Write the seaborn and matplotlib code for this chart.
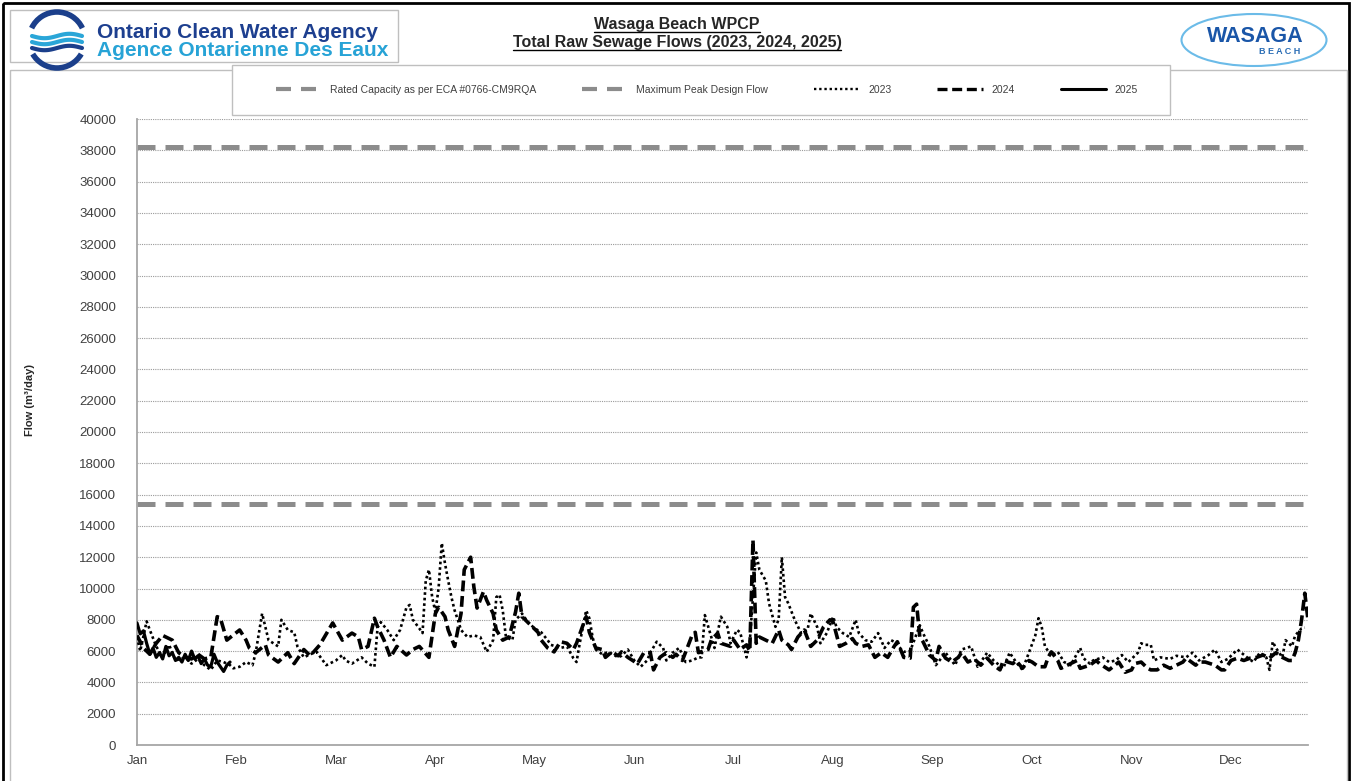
import numpy as np
import pandas as pd
import matplotlib
matplotlib.use("Agg")
import matplotlib.pyplot as plt
import seaborn as sns
from matplotlib.lines import Line2D
from matplotlib.patches import Rectangle, Ellipse, Arc

# ---- data ----
months = ["Jan", "Feb", "Mar", "Apr", "May", "Jun", "Jul", "Aug", "Sep", "Oct", "Nov", "Dec"]

rated_capacity = 15400
peak_design_flow = 38200

day_2025 = [0, 1, 2, 3, 4, 5, 6, 7, 8, 9, 10, 11, 12, 13, 14, 15, 16, 17, 18, 19,
            20, 21, 22, 23, 24, 25, 26, 27, 28, 29]
flow_2025 = [7800, 7100, 7300, 6500, 5800, 6200, 5600, 5900, 5500, 6300, 5700, 5900, 5400, 5600,
             5300, 5800, 5400, 6000, 5500, 5700, 5200, 5500, 5100, 5000, 5800, 5300, 5000, 4700,
             5100, 5300]

day_2024 = [0, 2, 4, 6, 8, 11, 13, 15, 17, 19, 21, 23, 25, 26, 28, 32, 34, 35, 37, 40,
            41, 44, 47, 49, 52, 54, 57, 61, 64, 67, 69, 70, 72, 74, 75, 77, 79, 81, 84, 86,
            88, 91, 93, 94, 96, 97, 99, 101, 102, 104, 105, 106, 108, 109, 111, 112, 114, 116, 118, 119,
            120, 122, 125, 126, 128, 130, 132, 134, 136, 137, 139, 140, 141, 143, 145, 146, 148, 150, 151, 153,
            156, 158, 160, 161, 163, 165, 167, 168, 170, 173, 174, 175, 178, 179, 181, 182, 185, 186, 188, 190,
            191, 192, 193, 194, 196, 198, 200, 201, 203, 204, 206, 208, 210, 212, 214, 216, 217, 219, 221, 223,
            224, 226, 228, 230, 232, 234, 236, 237, 239, 241, 242, 243, 244, 245, 247, 249, 250, 252, 254, 256,
            257, 259, 261, 263, 265, 267, 269, 270, 273, 274, 276, 278, 279, 281, 283, 284, 285, 287, 288, 291,
            293, 294, 297, 299, 300, 303, 306, 308, 310, 311, 313, 315, 316, 318, 320, 322, 324, 326, 327, 330,
            331, 333, 336, 338, 339, 341, 343, 345, 347, 349, 351, 353, 355, 357, 359, 360, 361, 362, 363, 364,
            365]
flow_2024 = [7000, 6200, 5800, 6500, 7000, 6700, 5900, 5600, 5500, 5800, 5500, 5600, 8200, 8100, 6700, 7350, 6700, 6200, 5900, 6400,
             5750, 5300, 5900, 5200, 6100, 5700, 6400, 7800, 6700, 7150, 6900, 6100, 6300, 8100, 7550, 6700, 5600, 6300, 5750, 6100,
             6300, 5600, 8400, 8800, 8200, 7350, 6300, 8400, 11200, 12000, 10100, 8750, 9800, 9250, 8400, 7350, 6700, 6900, 8500, 9700,
             8200, 7800, 7200, 6700, 6200, 5950, 6600, 6500, 6100, 6500, 7650, 8200, 7200, 6200, 6100, 5600, 5950, 5700, 5950, 5600,
             5200, 5900, 5900, 4800, 5600, 5900, 5600, 5800, 5400, 7000, 7200, 5900, 6100, 6700, 7150, 6500, 6300, 6700, 6100, 6400,
             6000, 13100, 6500, 6900, 6700, 6500, 7350, 6700, 6400, 6100, 6900, 7350, 6300, 6700, 7550, 8000, 7850, 6300, 6500, 6800,
             6500, 6300, 6400, 5600, 5900, 5600, 6300, 6600, 5600, 5550, 8800, 9000, 6900, 6600, 5750, 5400, 6300, 5550, 5300, 5600,
             5900, 5300, 5500, 5100, 5550, 5100, 4800, 5400, 5200, 5400, 4900, 5400, 5300, 5000, 5000, 5600, 5950, 5400, 4900, 5200,
             5400, 4900, 5100, 5400, 5200, 4800, 5300, 4650, 4800, 5200, 5300, 4900, 4800, 4800, 5100, 4900, 5100, 5300, 5550, 5100,
             5300, 5300, 5100, 4800, 4800, 5400, 5550, 5400, 5550, 5600, 5750, 5550, 5900, 5600, 5400, 5400, 5900, 6700, 8000, 9700,
             8000]

day_2023 = [0, 1, 3, 4, 6, 8, 10, 12, 15, 17, 19, 21, 23, 25, 27, 29, 30, 32, 34, 36,
            37, 39, 40, 41, 44, 45, 47, 49, 50, 52, 54, 56, 59, 62, 64, 65, 67, 70, 72, 74,
            75, 76, 78, 80, 82, 84, 85, 86, 88, 89, 90, 91, 92, 93, 94, 95, 96, 97, 98, 99,
            100, 101, 103, 105, 107, 109, 111, 112, 113, 114, 115, 117, 118, 120, 122, 124, 126, 128, 129, 132,
            134, 136, 137, 138, 140, 141, 142, 143, 145, 147, 150, 151, 153, 155, 157, 159, 160, 162, 164, 165,
            167, 169, 171, 173, 175, 176, 177, 178, 180, 182, 184, 185, 187, 188, 190, 191, 193, 194, 196, 197,
            199, 200, 201, 202, 203, 205, 207, 209, 210, 212, 213, 215, 217, 218, 220, 222, 224, 225, 227, 229,
            231, 233, 235, 236, 239, 241, 244, 245, 247, 249, 252, 255, 257, 260, 262, 265, 267, 270, 272, 274,
            276, 278, 280, 281, 282, 283, 285, 287, 289, 291, 294, 295, 297, 298, 301, 303, 305, 307, 309, 312,
            313, 314, 316, 317, 319, 322, 324, 327, 329, 331, 334, 336, 338, 340, 343, 346, 348, 350, 352, 353,
            354, 355, 357, 358, 360, 361, 363, 364]
flow_2023 = [6900, 6000, 7900, 7350, 6300, 5600, 6400, 5400, 5600, 5200, 5500, 5100, 4800, 5400, 5300, 5100, 4900, 5000, 5300, 5100,
             5900, 8400, 7550, 6700, 6300, 8000, 7350, 7200, 6300, 5600, 5800, 5950, 5100, 5400, 5750, 5400, 5200, 5600, 5200, 5000,
             7550, 7850, 7350, 6700, 7350, 8800, 8950, 8000, 7450, 7150, 10500, 11200, 9450, 8500, 10000, 12900, 11600, 10500, 9450, 8600,
             8000, 7350, 6900, 7000, 6900, 5950, 6700, 9450, 9600, 8600, 6900, 6700, 8000, 8400, 7800, 7450, 7200, 6700, 6400, 6200,
             6300, 5550, 5300, 6500, 8600, 8100, 6900, 6100, 5800, 5950, 5600, 5700, 6100, 5400, 5000, 5400, 5900, 6600, 6200, 5400,
             5900, 6200, 5300, 5400, 5600, 5600, 8300, 7600, 6200, 8200, 7550, 6500, 7350, 7200, 5600, 6600, 12300, 11200, 10500, 9050,
             7550, 8000, 12000, 9450, 9050, 8000, 7150, 7350, 8400, 7550, 6500, 7150, 8200, 7550, 7150, 6900, 8000, 7150, 6700, 6600,
             7150, 6200, 6700, 6600, 5950, 6000, 7650, 7150, 6300, 5100, 5900, 5100, 6100, 6300, 5000, 5900, 5400, 4900, 5900, 5300,
             4800, 5900, 7000, 8100, 7550, 6300, 5700, 5950, 5300, 5100, 6200, 5550, 5200, 5400, 5600, 5300, 5400, 5750, 5300, 5900,
             6500, 6400, 6400, 5400, 5600, 5500, 5700, 5600, 5900, 5400, 5750, 6100, 5300, 5500, 6100, 5600, 5300, 5900, 5600, 4800,
             6600, 6200, 5600, 6700, 6300, 7000, 7450, 7500]

W, H = 1354, 781

sns.set_style("white")
plt.rcParams['font.family'] = ['Liberation Sans', 'DejaVu Sans']

fig = plt.figure(figsize=(W / 100, H / 100), dpi=100)

# background layer in pixel coordinates (frames, logos, title)
bg = fig.add_axes([0, 0, 1, 1], zorder=0)
bg.set_xlim(0, W)
bg.set_ylim(H, 0)
bg.axis('off')

bg.add_patch(Rectangle((3, 3), 1346, 800, fill=False, ec='black', lw=2))
bg.add_patch(Rectangle((10, 70), 1337, 740, fill=False, ec='#bfbfbf', lw=1))
bg.add_patch(Rectangle((10, 10), 388, 52, fc='white', ec='#bfbfbf', lw=1, zorder=3))
# legend frame
bg.add_patch(Rectangle((232, 65), 938, 50, fc='white', ec='#bfbfbf', lw=1, zorder=3))

# OCWA logo
bg.add_patch(Arc((57, 40), 56, 56, theta1=205, theta2=335, color='#1b3f8b', lw=4, zorder=4))
bg.add_patch(Arc((57, 40), 56, 56, theta1=30, theta2=150, color='#1b3f8b', lw=4, zorder=4))
wx = np.linspace(32, 82, 60)
for y0, col in [(36, '#2aa6d8'), (42, '#2aa6d8'), (48, '#1b3f8b')]:
    bg.plot(wx, y0 + 2.2 * np.sin((wx - 32) / 50 * 2 * np.pi), color=col, lw=3, zorder=4)
bg.text(97, 33, "Ontario Clean Water Agency", color='#1d3f8f', fontsize=15,
        fontweight='bold', va='center', ha='left', zorder=4)
bg.text(97, 50, "Agence Ontarienne Des Eaux", color='#27a3d6', fontsize=15,
        fontweight='bold', va='center', ha='left', zorder=4)

# Wasaga Beach logo
bg.add_patch(Ellipse((1254, 40), 145, 52, fill=False, ec='#6bbbe8', lw=1.5))
bg.text(1255, 37, "WASAGA", color='#1a56a8', fontsize=15.5, fontweight='bold', ha='center', va='center')
bg.text(1280, 52, "B E A C H", color='#2a6db5', fontsize=6.5, fontweight='bold', ha='center', va='center')

# title
t1 = bg.text(677, 25, "Wasaga Beach WPCP", fontsize=11.5, fontweight='bold', ha='center', va='center')
t2 = bg.text(677, 43, "Total Raw Sewage Flows (2023, 2024, 2025)", fontsize=11.5,
             fontweight='bold', ha='center', va='center')

# main chart
ax = fig.add_axes([137 / W, 1 - 745 / H, (1308 - 137) / W, (745 - 119) / H], zorder=1)
ax.patch.set_alpha(0)

df23 = pd.DataFrame({'day': day_2023, 'flow': flow_2023})
df24 = pd.DataFrame({'day': day_2024, 'flow': flow_2024})
df25 = pd.DataFrame({'day': day_2025, 'flow': flow_2025})

sns.lineplot(data=df23, x='day', y='flow', ax=ax, color='black', lw=1.9,
             linestyle=(0, (1, 1.1)), zorder=3)
sns.lineplot(data=df24, x='day', y='flow', ax=ax, color='black', lw=2.6,
             linestyle=(0, (3, 1.3)), zorder=4)
sns.lineplot(data=df25, x='day', y='flow', ax=ax, color='black', lw=2.3, zorder=5)

ax.axhline(peak_design_flow, color='#8c8c8c', lw=3.6, linestyle=(0, (3.6, 2.0)), zorder=2)
ax.axhline(rated_capacity, color='#8c8c8c', lw=3.6, linestyle=(0, (3.6, 2.0)), zorder=2)

ax.set_xlim(0, 365)
ax.set_ylim(0, 40000)
ax.set_yticks(np.arange(0, 40001, 2000))
ax.set_xticks(np.arange(0, 342, 31))
ax.set_xticklabels(months)
ax.grid(axis='y', linestyle=(0, (1, 1)), color='#9a9a9a', lw=0.8)
ax.grid(axis='x', visible=False)
ax.set_axisbelow(True)
for s in ['top', 'right']:
    ax.spines[s].set_visible(False)
for s in ['left', 'bottom']:
    ax.spines[s].set_color('#a6a6a6')
    ax.spines[s].set_linewidth(1.3)
ax.tick_params(axis='y', length=0, labelsize=9.5, labelcolor='#404040', pad=15)
ax.tick_params(axis='x', length=0, labelsize=9.5, labelcolor='#404040', pad=7)
ax.set_xlabel('')
ax.set_ylabel('Flow (m³/day)', fontsize=8, fontweight='bold')
ax.yaxis.set_label_coords((35 - 137) / (1308 - 137), (745 - 400) / (745 - 119))

# legend
handles = [
    Line2D([], [], color='#8c8c8c', lw=3.0, linestyle=(0, (3.6, 2.4))),
    Line2D([], [], color='#8c8c8c', lw=3.0, linestyle=(0, (3.6, 2.4))),
    Line2D([], [], color='black', lw=1.7, linestyle=(0, (1, 1.2))),
    Line2D([], [], color='black', lw=2.4, linestyle=(0, (3, 1.4))),
    Line2D([], [], color='black', lw=2.2),
]
labels = ["Rated Capacity as per ECA #0766-CM9RQA", "Maximum Peak Design Flow", "2023", "2024", "2025"]
leg = fig.legend(handles, labels, ncol=5, loc='center', bbox_to_anchor=(707 / W, 1 - 90 / H),
                 fontsize=7.5, handlelength=4.4, columnspacing=4.4, frameon=False)
for txt in leg.get_texts():
    txt.set_color('#404040')
leg.set_zorder(5)

# underline title lines
fig.canvas.draw()
inv = bg.transData.inverted()
for t in (t1, t2):
    bb = t.get_window_extent()
    (x0, y0), (x1, y1) = inv.transform([(bb.x0, bb.y0), (bb.x1, bb.y1)])
    bg.plot([x0, x1], [y0 - 1, y0 - 1], color='black', lw=1)

fig.savefig('out.png', dpi=100)
